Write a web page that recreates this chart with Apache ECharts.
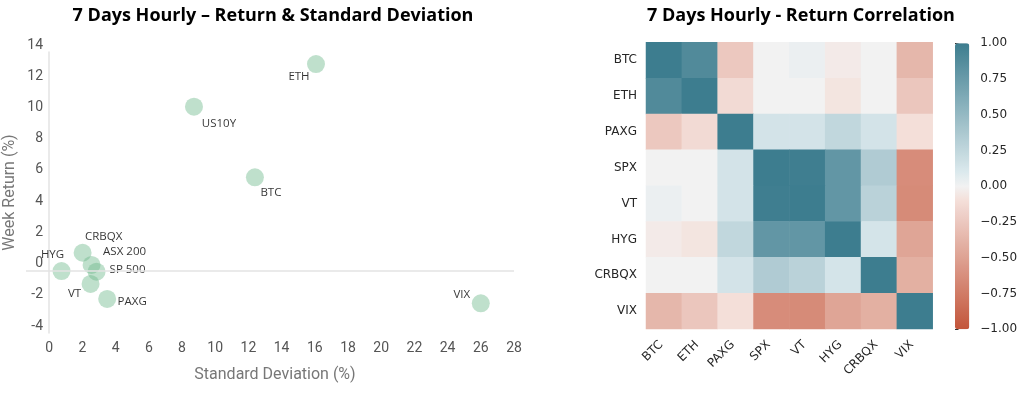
<!DOCTYPE html>
<html>
<head>
<meta charset="utf-8">
<script src="https://cdn.jsdelivr.net/npm/echarts@6/dist/echarts.min.js"></script>
<style>
	html, body { margin: 0; padding: 0; background: #fff; }
	#main { width: 1029px; height: 396px; }
</style>
</head>
<body>
<div id="main"></div>
<script>
// scatter: std deviation vs weekly return
var scatterNames = ['ETH', 'US10Y', 'BTC', 'CRBQX', 'HYG', 'ASX 200', 'SP 500', 'VT', 'PAXG', 'VIX'];
var stdDev = [16.07, 8.72, 12.39, 2.01, 0.74, 2.55, 2.85, 2.49, 3.49, 26.0];
var weekReturn = [13.23, 10.5, 5.97, 1.14, -0.03, 0.36, -0.07, -0.86, -1.82, -2.1];
var xTicks = [0, 2, 4, 6, 8, 10, 12, 14, 16, 18, 20, 22, 24, 26, 28];

// correlation heatmap
var assets = ['BTC', 'ETH', 'PAXG', 'SPX', 'VT', 'HYG', 'CRBQX', 'VIX'];
var corrValues = [
	[1, 0.89, -0.25, 0, 0.03, -0.04, 0, -0.36],
	[0.89, 1, -0.13, 0, 0, -0.07, 0, -0.26],
	[-0.25, -0.13, 1, 0.15, 0.15, 0.25, 0.15, -0.1],
	[0, 0, 0.15, 1, 0.99, 0.79, 0.35, -0.64],
	[0.03, 0, 0.15, 0.99, 1, 0.79, 0.29, -0.65],
	[-0.04, -0.07, 0.25, 0.79, 0.79, 1, 0.14, -0.48],
	[0, 0, 0.15, 0.35, 0.29, 0.14, 1, -0.41],
	[-0.36, -0.26, -0.1, -0.64, -0.65, -0.48, -0.41, 1]
];

// label placement around each bubble (pixels)
var labelOffsets = {
	'ETH': [-17, 13], 'US10Y': [25, 17], 'BTC': [16, 15], 'CRBQX': [21, -16],
	'HYG': [-9, -16], 'ASX 200': [33, -13], 'SP 500': [31, -2], 'VT': [-16, 10],
	'PAXG': [25, 3], 'VIX': [-19, -9]
};

var MPL_FONT = 'DejaVu Sans';

// diverging map: red -> light tint, grey centre, light tint -> blue (linear in rgb)
function lerp(a, b, t) {
	return 'rgb(' + Math.round(a[0] + (b[0] - a[0]) * t) + ',' + Math.round(a[1] + (b[1] - a[1]) * t) + ',' + Math.round(a[2] + (b[2] - a[2]) * t) + ')';
}
function buildCmap() {
	var red = [195, 85, 58], redTint = [249, 238, 235];
	var blue = [61, 125, 143], blueTint = [237, 245, 247];
	var cols = [];
	for (var i = 10; i >= 1; i--) cols.push(lerp(redTint, red, i / 10));
	cols.push('rgb(242,242,242)');
	for (var j = 1; j <= 10; j++) cols.push(lerp(blueTint, blue, j / 10));
	return cols;
}

var myChart = echarts.init(document.getElementById('main'));

function buildScatter() {
	var data = [];
	for (var i = 0; i < scatterNames.length; i++) {
		data.push({
			name: scatterNames[i],
			value: [stdDev[i], weekReturn[i]],
			label: { offset: labelOffsets[scatterNames[i]] }
		});
	}
	return data;
}

function buildHeat() {
	var data = [];
	for (var r = 0; r < assets.length; r++) {
		for (var c = 0; c < assets.length; c++) {
			data.push([c, r, corrValues[r][c]]);
		}
	}
	return data;
}

var option = {
	animation: false,
	graphic: [
		{ type: 'text', x: 273, y: 16, style: { text: '7 Days Hourly \u2013 Return & Standard Deviation', font: 'bold 18px "Open Sans"', fill: '#000', textAlign: 'center', textVerticalAlign: 'middle' } },
		{ type: 'text', x: 801, y: 16, style: { text: '7 Days Hourly - Return Correlation', font: 'bold 18px "Open Sans"', fill: '#000', textAlign: 'center', textVerticalAlign: 'middle' } }
	],
	grid: [
		{ left: 26, top: 52, width: 488, height: 281, outerBoundsMode: 'none' },
		{ left: 646, top: 42.3, width: 286.7, height: 286.7, outerBoundsMode: 'none' },
		{ left: 955, top: 43.3, width: 14.3, height: 286, outerBoundsMode: 'none' }
	],
	xAxis: [
		{
			gridIndex: 0, type: 'value', min: -1.4, max: 28,
			name: 'Standard Deviation (%)', nameLocation: 'middle', nameGap: 34, nameMoveOverlap: false,
			nameTextStyle: { fontFamily: 'Roboto', fontSize: 16, color: '#777', padding: [0, 0, 0, 10] },
			axisLine: { show: false, onZero: false }, axisTick: { show: false }, splitLine: { show: false },
			axisLabel: { customValues: xTicks, fontFamily: 'Roboto', fontSize: 14, color: '#555', margin: 8 }
		},
		{
			gridIndex: 1, type: 'category', data: assets,
			axisLine: { show: false },
			axisTick: { alignWithLabel: true, length: 3.5, lineStyle: { color: '#333' } },
			axisLabel: { rotate: 45, interval: 0, fontFamily: MPL_FONT, fontSize: 12, color: '#262626', margin: 11, padding: [0, 4, 0, 0] }
		},
		{ gridIndex: 2, type: 'value', show: false, min: 0, max: 1 }
	],
	yAxis: [
		{
			gridIndex: 0, type: 'value', min: -4, max: 14, interval: 2,
			name: 'Week Return (%)', nameLocation: 'middle', nameGap: 8, nameMoveOverlap: false,
			nameTextStyle: { fontFamily: 'Roboto', fontSize: 16, color: '#777' },
			axisLine: { show: true, onZero: true, lineStyle: { color: '#e3e3e3', width: 1.5 } },
			axisTick: { show: false }, splitLine: { show: false },
			axisLabel: { fontFamily: 'Roboto', fontSize: 14, color: '#555', margin: -17, verticalAlign: 'bottom' }
		},
		{
			gridIndex: 1, type: 'category', data: assets, inverse: true,
			axisLine: { show: false },
			axisTick: { alignWithLabel: true, length: 3.5, lineStyle: { color: '#333' } },
			axisLabel: { interval: 0, fontFamily: MPL_FONT, fontSize: 12, color: '#262626', margin: 9 }
		},
		{
			gridIndex: 2, type: 'value', position: 'right', min: -1, max: 1, interval: 0.25,
			axisLine: { show: false }, splitLine: { show: false },
			axisTick: { show: true, length: 3.5, lineStyle: { color: '#333' } },
			axisLabel: {
				fontFamily: MPL_FONT, fontSize: 12, color: '#262626', margin: 11,
				formatter: function(v) { return v.toFixed(2).replace('-', '\u2212'); }
			}
		}
	],
	visualMap: {
		type: 'continuous', min: -1, max: 1, seriesIndex: 1,
		left: 955, top: 43.3, itemWidth: 14.3, itemHeight: 286, padding: 0,
		calculable: false, hoverLink: false, text: null,
		inRange: { color: buildCmap() }
	},
	series: [
		{
			type: 'scatter', xAxisIndex: 0, yAxisIndex: 0,
			symbolSize: 18,
			itemStyle: { color: 'rgba(110,185,140,0.55)' },
			label: {
				show: true, position: 'inside', formatter: '{b}',
				fontFamily: 'Open Sans', fontSize: 11.5, color: '#000'
			},
			markLine: {
				silent: true, symbol: 'none', label: { show: false },
				lineStyle: { color: '#e3e3e3', type: 'solid', width: 1.5 },
				data: [{ yAxis: 0 }]
			},
			data: buildScatter()
		},
		{
			type: 'heatmap', xAxisIndex: 1, yAxisIndex: 1,
			emphasis: { disabled: true },
			data: buildHeat()
		}
	]
};

myChart.setOption(option);
</script>
</body>
</html>
